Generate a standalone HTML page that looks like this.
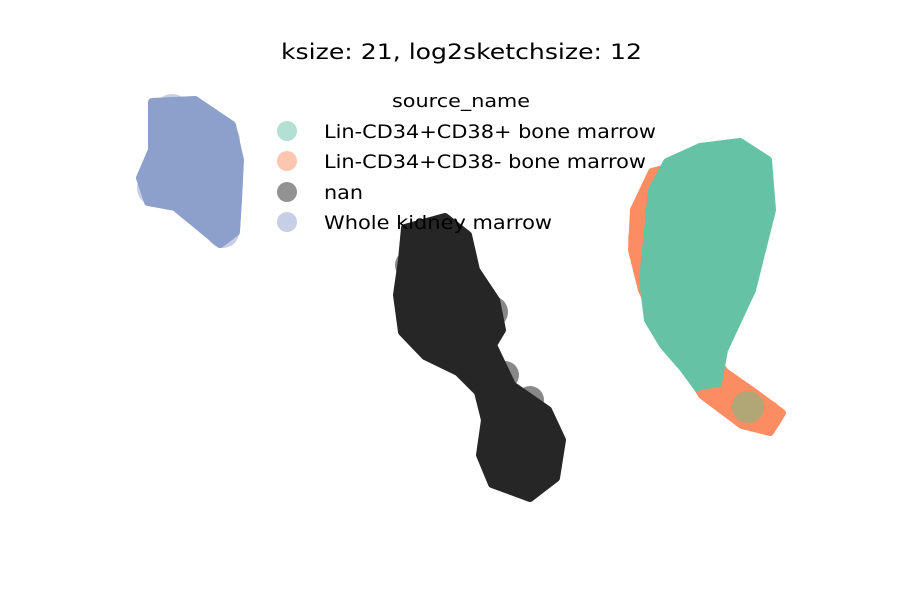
<!DOCTYPE html>
<html><head><style>
body{margin:0;background:#fff;}
svg{display:block;}
text{font-family:"DejaVu Sans","Liberation Sans",sans-serif;}
</style></head><body>
<svg width="900" height="600" viewBox="0 0 900 600">
<rect width="900" height="600" fill="#fff"/>
<text x="281" y="59" font-size="21" textLength="361" lengthAdjust="spacingAndGlyphs" fill="#000">ksize: 21, log2sketchsize: 12</text>
<!-- blue cluster -->
<polygon points="152,102 195,100 232,125 240,160 238,200 236,232 220,244 197,225 175,207 148,202 140,178 152,150 152,122" fill="#8da0cb" stroke="#8da0cb" stroke-width="8" stroke-linejoin="round"/>
<g fill="#8da0cb" fill-opacity="0.5">
<circle cx="172" cy="112" r="18"/><circle cx="155" cy="188" r="18"/><circle cx="223" cy="232" r="16"/><circle cx="222" cy="140" r="18"/>
</g>
<!-- black cluster -->
<polygon points="405,228 445,217 468,235 476,270 496,300 502,330 493,345 512,385 548,410 562,440 556,478 530,498 492,484 480,455 485,420 478,392 458,372 425,356 402,332 397,295 402,260" fill="#262626" stroke="#262626" stroke-width="8" stroke-linejoin="round"/>
<g fill="#262626" fill-opacity="0.55">
<circle cx="492" cy="312" r="16"/><circle cx="410" cy="265" r="15"/><circle cx="530" cy="400" r="14"/><circle cx="505" cy="375" r="14"/><circle cx="548" cy="442" r="16"/>
</g>
<!-- orange -->
<polygon points="652,172 690,162 698,200 680,290 700,338 725,372 755,393 782,413 770,432 742,425 702,395 682,362 657,322 642,290 632,250 634,210" fill="#fc8d62" stroke="#fc8d62" stroke-width="8" stroke-linejoin="round"/>
<g fill="#fc8d62" fill-opacity="0.6"><circle cx="643" cy="238" r="15"/><circle cx="765" cy="416" r="17"/><circle cx="652" cy="205" r="15"/></g>
<!-- green -->
<polygon points="667,162 700,147 740,142 768,160 772,210 762,250 752,290 738,320 724,350 718,383 697,387 683,368 663,345 648,320 643,280 648,230 652,190" fill="#66c2a5" stroke="#66c2a5" stroke-width="8" stroke-linejoin="round"/>
<g fill="#66c2a5" fill-opacity="0.55"><circle cx="755" cy="208" r="17"/><circle cx="740" cy="288" r="16"/><circle cx="675" cy="335" r="17"/><circle cx="705" cy="372" r="16"/><circle cx="750" cy="240" r="14"/></g>
<circle cx="748" cy="407" r="16" fill="#a8a878" fill-opacity="0.9"/>
<!-- legend -->
<text x="392" y="107" font-size="18" textLength="138" lengthAdjust="spacingAndGlyphs" fill="#000">source_name</text>
<circle cx="287" cy="131" r="10" fill="#66c2a5" fill-opacity="0.5"/>
<circle cx="287" cy="161" r="10" fill="#fc8d62" fill-opacity="0.5"/>
<circle cx="287" cy="192" r="10" fill="#262626" fill-opacity="0.5"/>
<circle cx="287" cy="222" r="10" fill="#8da0cb" fill-opacity="0.5"/>
<g font-size="19" fill="#000">
<text x="324" y="138" textLength="332" lengthAdjust="spacingAndGlyphs">Lin-CD34+CD38+ bone marrow</text>
<text x="324" y="168" textLength="322" lengthAdjust="spacingAndGlyphs">Lin-CD34+CD38- bone marrow</text>
<text x="324" y="199" textLength="39" lengthAdjust="spacingAndGlyphs">nan</text>
<text x="324" y="229" textLength="228" lengthAdjust="spacingAndGlyphs">Whole kidney marrow</text>
</g>
</svg>
</body></html>
